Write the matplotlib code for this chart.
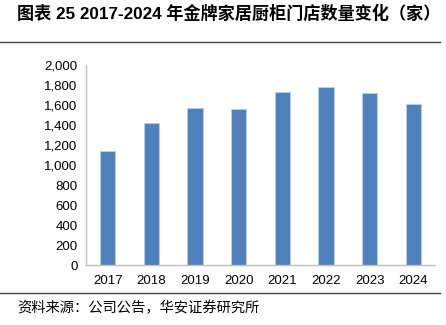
import matplotlib
matplotlib.use("Agg")
import matplotlib.pyplot as plt
from matplotlib.lines import Line2D
from matplotlib.ticker import FuncFormatter

years = ["2017", "2018", "2019", "2020", "2021", "2022", "2023", "2024"]
stores = [1140, 1420, 1567, 1560, 1727, 1777, 1717, 1607]
title = "图表 25 2017-2024 年金牌家居厨柜门店数量变化（家）"
source = "资料来源：公司公告，华安证券研究所"

fam = ["Liberation Sans", "Noto Sans CJK SC", "DejaVu Sans"]
plt.rcParams['font.family'] = fam

fig = plt.figure(figsize=(4.46, 3.25), dpi=100)
ax = fig.add_axes([86/446, 60/325, (435-86)/446, 200/325])

x = range(len(years))
ax.bar(x, stores, width=0.35, color="#4F81BD", edgecolor="#BCD0EA", linewidth=0.6)
ax.set_xlim(-0.5, len(years) - 0.5)
ax.set_ylim(0, 2000)
ax.set_yticks(range(0, 2001, 200))
ax.yaxis.set_major_formatter(FuncFormatter(lambda v, p: f"{int(v):,}"))
ax.set_xticks(list(x))
ax.set_xticklabels(years)
for s in ["top", "right"]:
    ax.spines[s].set_visible(False)
for s in ["left", "bottom"]:
    ax.spines[s].set_color("#BFBFBF")
    ax.spines[s].set_linewidth(1.0)
ax.tick_params(axis="both", length=0, labelsize=9.5, colors="#000000")
ax.tick_params(axis="x", pad=7)
ax.tick_params(axis="y", pad=6)

fig.text(17/446, 1 - 13/325, title, fontsize=12.3, fontweight="bold",
         va="center", ha="left", family=fam)
fig.add_artist(Line2D([0, 440/446], [1 - 42/325, 1 - 42/325], color="#404040", lw=1.0))
fig.add_artist(Line2D([0, 440/446], [1 - 293/325, 1 - 293/325], color="#404040", lw=1.0))
fig.text(17/446, 1 - 308/325, source, fontsize=10.3, va="center", ha="left",
         family=["Noto Sans CJK SC", "DejaVu Sans"], color="#000000")

fig.savefig("out.png", dpi=100)
